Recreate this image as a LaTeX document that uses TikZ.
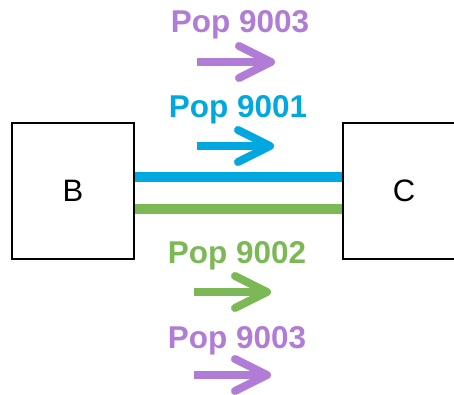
\documentclass[tikz,border=0pt]{standalone}
\usepackage{fontspec}
\setmainfont{Liberation Sans}
\usetikzlibrary{calc}
\definecolor{popblue}{HTML}{00A8DF}
\definecolor{popgreen}{HTML}{7CB855}
\definecolor{poppurple}{HTML}{B07CD6}
\begin{document}
\begin{tikzpicture}[x=1pt,y=-1pt,
  box/.style={draw=black, line width=1.6pt, minimum width=122pt, minimum height=136pt,
    inner sep=0pt, font=\fontsize{31}{33}\selectfont},
  lbl/.style={font=\bfseries\fontsize{31.5}{34}\selectfont, inner sep=0pt, anchor=base},
  link/.style={line width=10pt},
  flow/.style={line width=8pt},
  flowhead/.style={line width=8pt, line cap=round, line join=round}
]
\useasboundingbox (0,0) rectangle (454,394);

% the two end boxes
\node[box] (B) at (73,191) {B};
\node[box] (C) at (404,191) {C};

% the two links between B and C
\draw[link, popblue]  ([yshift=14pt]B.east) -- ([yshift=14pt]C.west);
\draw[link, popgreen] ([yshift=-18pt]B.east) -- ([yshift=-18pt]C.west);

% population labels
\node[lbl, text=poppurple] (p3a) at (240,32)  {Pop 9003};
\node[lbl, text=popblue]   (p1)  at (238,117) {Pop 9001};
\node[lbl, text=popgreen]  (p2)  at (237,263) {Pop 9002};
\node[lbl, text=poppurple] (p3b) at (237,348) {Pop 9003};

% direction arrows: shaft plus open chevron head
\foreach \c/\xs/\xe/\y in {poppurple/197/271/62, popblue/197/270/146,
                           popgreen/194/267/292, poppurple/194/267/375}{
  \coordinate (s) at (\xs,\y);
  \coordinate (t) at (\xe,\y);
  \draw[flow, \c] (s) -- (t);
  \draw[flowhead, \c] ($(t)+(-32,-16)$) -- (t) -- ($(t)+(-32,16)$);
}
\end{tikzpicture}
\end{document}
